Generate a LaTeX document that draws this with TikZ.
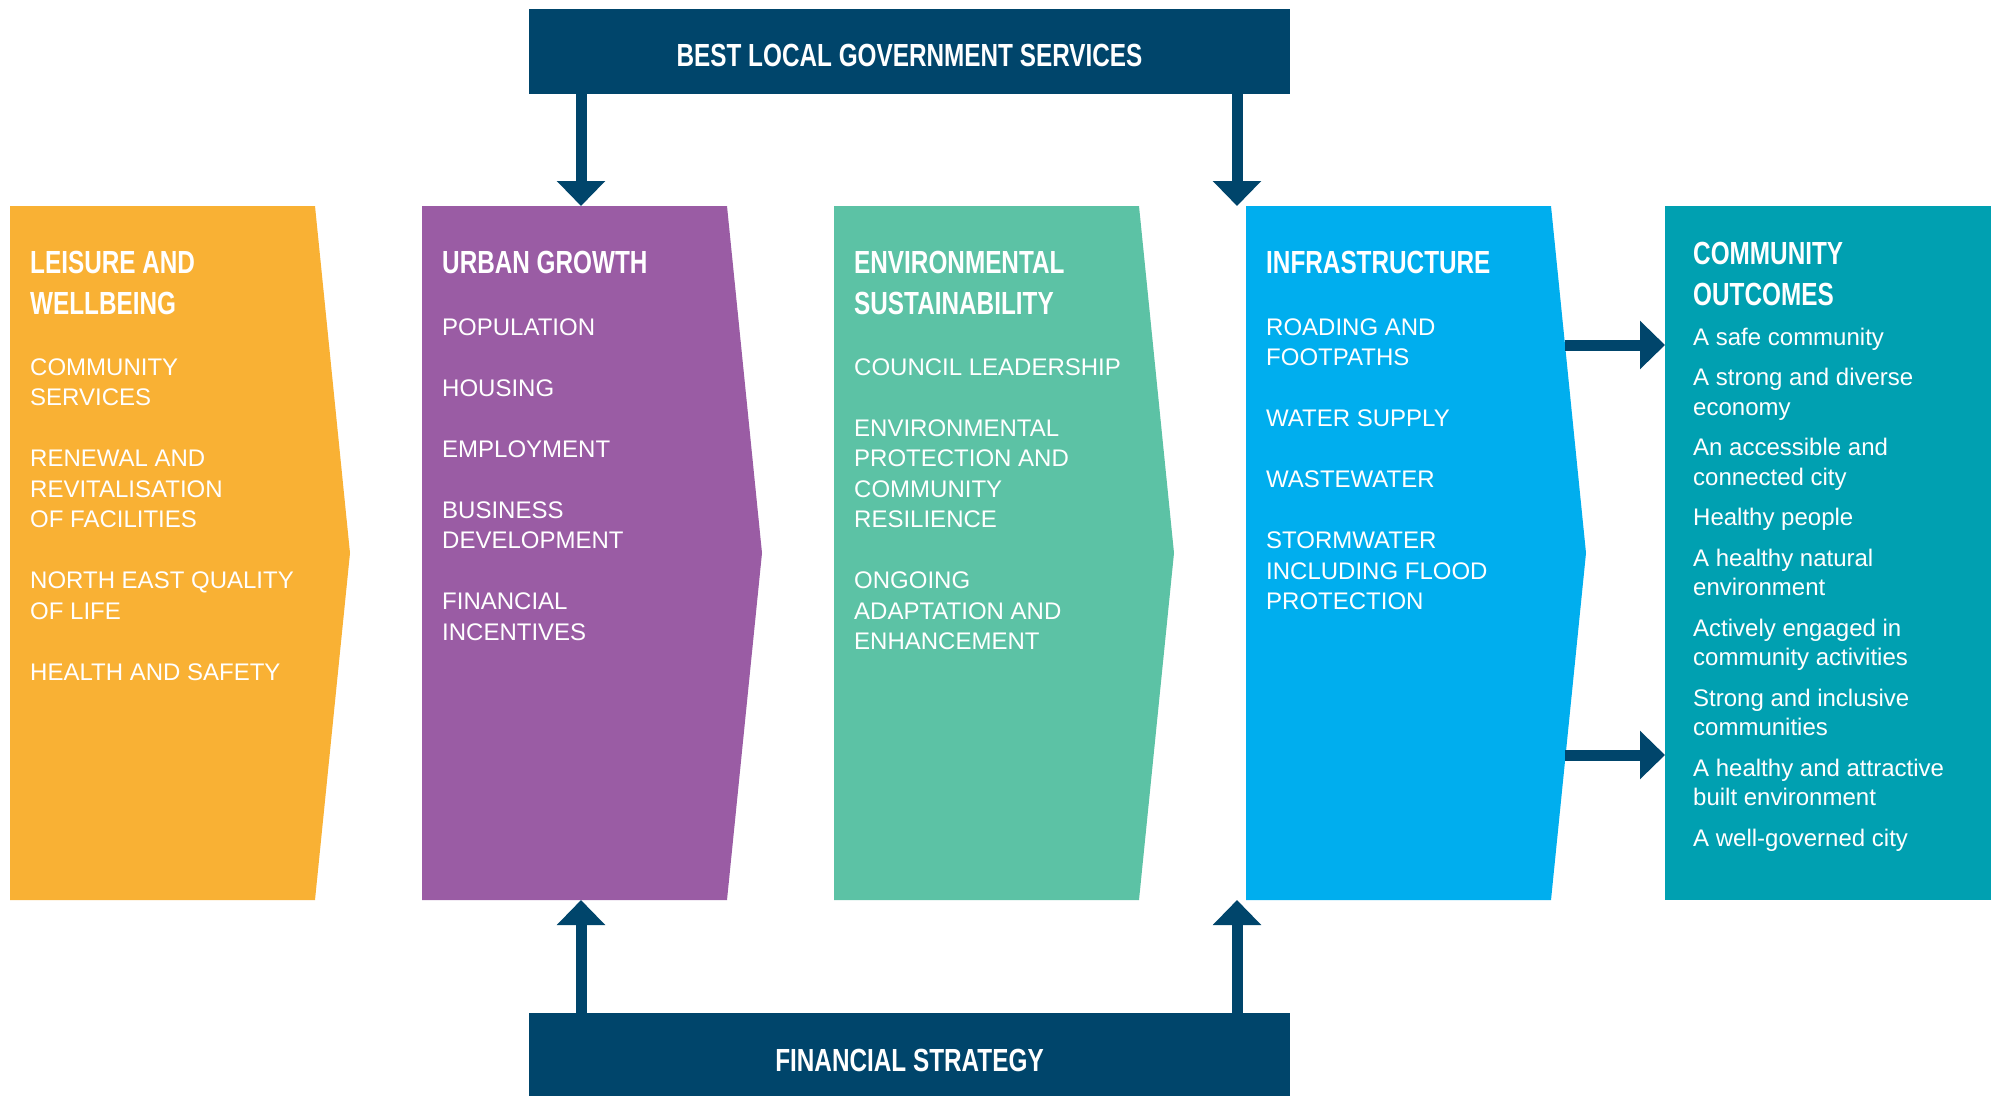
\documentclass[tikz,border=0pt]{standalone}
\usepackage{fontspec}
\setmainfont{Liberation Sans}
\newfontfamily\headfont[FakeStretch=0.76]{Liberation Sans}
\usetikzlibrary{arrows.meta,calc}

\definecolor{navy}{HTML}{00456B}
\definecolor{cOrange}{HTML}{F9B134}
\definecolor{cPurple}{HTML}{9A5CA4}
\definecolor{cGreen}{HTML}{5CC2A5}
\definecolor{cBlue}{HTML}{00AEEE}
\definecolor{cTeal}{HTML}{00A0B1}

% chevron-shaped column drawn around an (invisible) rectangular node
\newcommand\colshape[2]{%
  \fill[#2] (#1.north west) -- (#1.north east) -- ($(#1.east)+(35,0)$)
    -- (#1.south east) -- (#1.south west) -- cycle;}

\begin{document}
\begin{tikzpicture}[x=1pt,y=-1pt,
  col/.style={minimum width=305pt, minimum height=694pt, inner sep=0pt, outer sep=0pt},
  banner/.style={fill=navy, minimum width=761pt, inner sep=0pt, outer sep=0pt,
    text depth=0pt, text=white, font=\headfont\bfseries\fontsize{32}{38}\selectfont},
  % multi-line texts are placed by the baseline of their last line
  head/.style={anchor=base west, inner sep=0pt, align=left, text=white,
    font=\headfont\bfseries\fontsize{32}{41}\selectfont},
  body/.style={anchor=base west, inner sep=0pt, align=left, text=white,
    font=\fontsize{24}{30.5}\selectfont},
  outcome/.style={anchor=base west, inner sep=0pt, align=left, text=white,
    font=\fontsize{24}{29.5}\selectfont},
  flow/.style={draw=navy, line width=11pt, -{Triangle[width=47pt,length=25pt]}}
]
\useasboundingbox (0,0) rectangle (1999,1096);

% banners (text height sets the label a little below the middle)
\node[banner, minimum height=85pt, text height=29pt] (gov) at (909.5,51.5) {BEST LOCAL GOVERNMENT SERVICES};
\node[banner, minimum height=83pt, text height=33pt] (fin) at (909.5,1054.5) {FINANCIAL STRATEGY};

% columns
\node[col] (leis) at (162.5,553) {};
\node[col] (urb)  at (574.5,553) {};
\node[col] (env)  at (986.5,553) {};
\node[col] (inf)  at (1398.5,553) {};
\node[col, minimum width=326pt, fill=cTeal] (outc) at (1828,553) {};
\colshape{leis}{cOrange}
\colshape{urb}{cPurple}
\colshape{env}{cGreen}
\colshape{inf}{cBlue}

% column texts
\node[head] (leisT) at (30,314) {LEISURE AND\\WELLBEING};
\node[body] (leisB) at (30,680) {COMMUNITY\\SERVICES\\[30.5pt]RENEWAL AND\\REVITALISATION\\OF FACILITIES\\[30.5pt]NORTH EAST QUALITY\\OF LIFE\\[30.5pt]HEALTH AND SAFETY};

\node[head] (urbT) at (442,273) {URBAN GROWTH};
\node[body] (urbB) at (442,640) {POPULATION\\[30.5pt]HOUSING\\[30.5pt]EMPLOYMENT\\[30.5pt]BUSINESS\\DEVELOPMENT\\[30.5pt]FINANCIAL\\INCENTIVES};

\node[head] (envT) at (854,314) {ENVIRONMENTAL\\SUSTAINABILITY};
\node[body] (envB) at (854,649.5) {COUNCIL LEADERSHIP\\[30.5pt]ENVIRONMENTAL\\PROTECTION AND\\COMMUNITY\\RESILIENCE\\[30.5pt]ONGOING\\ADAPTATION AND\\ENHANCEMENT};

\node[head] (infT) at (1266,273) {INFRASTRUCTURE};
\node[body] (infB) at (1266,609.5) {ROADING AND\\FOOTPATHS\\[30.5pt]WATER SUPPLY\\[30.5pt]WASTEWATER\\[30.5pt]STORMWATER\\INCLUDING FLOOD\\PROTECTION};

\node[head] (outT) at (1693,305) {COMMUNITY\\OUTCOMES};
\node[outcome] (outB) at (1693,846) {A safe community\\[11pt]A strong and diverse\\economy\\[11pt]An accessible and\\connected city\\[11pt]Healthy people\\[11pt]A healthy natural\\environment\\[11pt]Actively engaged in\\community activities\\[11pt]Strong and inclusive\\communities\\[11pt]A healthy and attractive\\built environment\\[11pt]A well-governed city};

% connector anchors
\coordinate (gl) at ([xshift=52pt]gov.south west);
\coordinate (gr) at ([xshift=-53pt]gov.south east);
\coordinate (fl) at ([xshift=52pt]fin.north west);
\coordinate (fr) at ([xshift=-53pt]fin.north east);
\coordinate (o1) at (1565,345);
\coordinate (o2) at (1565,755);

% connectors
\draw[flow] (gl) -- (gl |- urb.north);
\draw[flow] (gr) -- (gr |- inf.north);
\draw[flow] (fl) -- (fl |- urb.south);
\draw[flow] (fr) -- (fr |- inf.south);
\draw[flow] (o1) -- (o1 -| outc.west);
\draw[flow] (o2) -- (o2 -| outc.west);
\end{tikzpicture}
\end{document}
